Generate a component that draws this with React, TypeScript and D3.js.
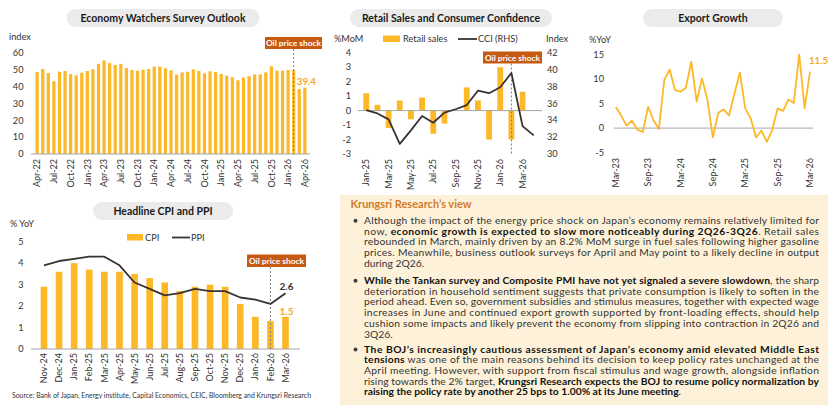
import React from 'react';
import * as d3 from 'd3';

const FONT = "Lato, 'Liberation Sans', sans-serif";
const GOLD = '#FDB827';
const GOLD_TXT = '#F2A91D';
const DARK = '#3A3233';
const AXIS = '#A6A6A6';
const SHOCK = '#C65A11';
const TXT = '#333333';
const TICK = 9.2;

// ---------- Economy Watchers Survey Outlook ----------
const ewsMonths = [
  'Apr-22','May-22','Jun-22','Jul-22','Aug-22','Sep-22','Oct-22','Nov-22','Dec-22',
  'Jan-23','Feb-23','Mar-23','Apr-23','May-23','Jun-23','Jul-23','Aug-23','Sep-23','Oct-23','Nov-23','Dec-23',
  'Jan-24','Feb-24','Mar-24','Apr-24','May-24','Jun-24','Jul-24','Aug-24','Sep-24','Oct-24','Nov-24','Dec-24',
  'Jan-25','Feb-25','Mar-25','Apr-25','May-25','Jun-25','Jul-25','Aug-25','Sep-25','Oct-25','Nov-25','Dec-25',
  'Jan-26','Feb-26','Mar-26','Apr-26'];
const ewsValues = [
  48.7,50.5,48.1,43.2,48.9,49.3,47.5,46.7,48.3,49.3,50.3,53.5,
  55.6,54.0,52.9,53.5,51.1,49.9,49.5,50.1,50.5,51.9,51.9,50.9,
  49.7,47.1,48.5,48.9,50.3,49.3,47.9,49.1,48.7,47.5,46.5,45.6,
  43.8,45.4,46.2,47.3,47.3,48.5,52.1,49.5,49.5,49.9,49.9,38.6,39.4];
const ewsTicks = [0,10,20,30,40,50,60];
const ewsXLabels = ['Apr-22','Jul-22','Oct-22','Jan-23','Apr-23','Jul-23','Oct-23','Jan-24','Apr-24','Jul-24','Oct-24','Jan-25','Apr-25','Jul-25','Oct-25','Jan-26','Apr-26'];

// ---------- Retail Sales and Consumer Confidence ----------
const retailMonths = ['Jan-25','Feb-25','Mar-25','Apr-25','May-25','Jun-25','Jul-25','Aug-25','Sep-25','Oct-25','Nov-25','Dec-25','Jan-26','Feb-26','Mar-26','Apr-26'];
const retailSales: (number | null)[] = [1.2,0.4,-1.2,0.7,-0.6,0.9,-1.6,-0.9,0.0,1.6,0.7,-2.0,3.0,-2.0,1.3,null];
const cciValues = [35.2,34.8,34.1,31.2,32.8,34.5,33.7,34.9,35.3,35.8,37.5,37.2,37.9,39.6,33.3,32.2];
const retailTicks = [-3,-2,-1,0,1,2,3,4];
const cciTicks = [30,32,34,36,38,40,42];
const retailXLabels = ['Jan-25','Mar-25','May-25','Jul-25','Sep-25','Nov-25','Jan-26','Mar-26'];

// ---------- Export Growth ----------
const exportMonths = [
  'Mar-23','Apr-23','May-23','Jun-23','Jul-23','Aug-23','Sep-23','Oct-23','Nov-23','Dec-23',
  'Jan-24','Feb-24','Mar-24','Apr-24','May-24','Jun-24','Jul-24','Aug-24','Sep-24','Oct-24','Nov-24','Dec-24',
  'Jan-25','Feb-25','Mar-25','Apr-25','May-25','Jun-25','Jul-25','Aug-25','Sep-25','Oct-25','Nov-25','Dec-25',
  'Jan-26','Feb-26','Mar-26'];
const exportValues = [
  4.3,2.6,0.5,1.5,-0.3,-0.8,4.3,1.6,-0.2,9.8,
  11.9,7.7,7.4,8.2,13.5,5.4,10.1,5.7,-1.9,3.1,3.8,2.6,
  7.0,11.3,4.0,2.0,-1.9,-0.5,-2.8,-0.4,4.0,3.5,5.8,5.1,
  15.0,4.0,11.5];
const exportTicks = [-5,0,5,10,15];
const exportXLabels = ['Mar-23','Sep-23','Mar-24','Sep-24','Mar-25','Sep-25','Mar-26'];

// ---------- Headline CPI and PPI ----------
const cpiMonths = ['Nov-24','Dec-24','Jan-25','Feb-25','Mar-25','Apr-25','May-25','Jun-25','Jul-25','Aug-25','Sep-25','Oct-25','Nov-25','Dec-25','Jan-26','Feb-26','Mar-26'];
const cpiValues = [2.9,3.6,4.0,3.7,3.6,3.6,3.5,3.3,3.1,2.7,2.9,3.0,2.9,2.1,1.5,1.3,1.5];
const ppiValues = [3.9,4.1,4.2,4.3,4.3,3.9,3.1,2.8,2.5,2.6,2.8,2.7,2.7,2.4,2.3,2.1,2.6];
const cpiTicks = [0,1,2,3,4,5];

// ---------- Commentary ----------
type Seg = [string, boolean];
type Line = { segs: Seg[]; justify: boolean };
const para1: Line[] = [
  { segs: [['Although the impact of the energy price shock on Japan\u2019s economy remains relatively limited for', false]], justify: true },
  { segs: [['now, ', false], ['economic growth is expected to slow more noticeably during 2Q26-3Q26', true], ['. Retail sales', false]], justify: true },
  { segs: [['rebounded in March, mainly driven by an 8.2% MoM surge in fuel sales following higher gasoline', false]], justify: true },
  { segs: [['prices. Meanwhile, business outlook surveys for April and May point to a likely decline in output', false]], justify: true },
  { segs: [['during 2Q26.', false]], justify: false },
];
const para2: Line[] = [
  { segs: [['While the Tankan survey and Composite PMI have not yet signaled a severe slowdown', true], [', the sharp', false]], justify: true },
  { segs: [['deterioration in household sentiment suggests that private consumption is likely to soften in the', false]], justify: true },
  { segs: [['period ahead. Even so, government subsidies and stimulus measures, together with expected wage', false]], justify: true },
  { segs: [['increases in June and continued export growth supported by front-loading effects, should help', false]], justify: true },
  { segs: [['cushion some impacts and likely prevent the economy from slipping into contraction in 2Q26 and', false]], justify: true },
  { segs: [['3Q26.', false]], justify: false },
];
const para3: Line[] = [
  { segs: [['The BOJ\u2019s increasingly cautious assessment of Japan\u2019s economy amid elevated Middle East', true]], justify: true },
  { segs: [['tensions', true], [' was one of the main reasons behind its decision to keep policy rates unchanged at the', false]], justify: true },
  { segs: [['April meeting. However, with support from fiscal stimulus and wage growth, alongside inflation', false]], justify: true },
  { segs: [['rising towards the 2% target, ', false], ['Krungsri Research expects the BOJ to resume policy normalization by', true]], justify: true },
  { segs: [['raising the policy rate by another 25 bps to 1.00% at its June meeting', true], ['.', false]], justify: false },
];

function Pill({ cx, cy, w, label }: { cx: number; cy: number; w: number; label: string }) {
  const h = 18;
  return (
    <g>
      <rect x={cx - w / 2} y={cy - h / 2} width={w} height={h} rx={h / 2} fill="#EBEBEB" />
      <text x={cx} y={cy} dy="0.36em" textAnchor="middle" fontWeight={700} fontSize={10.5} fill="#1A1A1A">{label}</text>
    </g>
  );
}

function ShockBox({ x, y, w, h }: { x: number; y: number; w: number; h: number }) {
  return (
    <g>
      <rect x={x} y={y} width={w} height={h} fill={SHOCK} />
      <text x={x + w / 2} y={y + h / 2} dy="0.36em" textAnchor="middle" fontWeight={700} fontSize={8.4} fill="#FFFFFF">Oil price shock</text>
    </g>
  );
}

function RotLabel({ x, y, label }: { x: number; y: number; label: string }) {
  return (
    <text transform={`translate(${x},${y}) rotate(-90)`} textAnchor="end" dy="0.35em" fontSize={9} fill={TXT}>{label}</text>
  );
}

function EwsChart() {
  const x = d3.scaleBand<string>().domain(ewsMonths).range([33.2, 308.8]).padding(0.42);
  const y = d3.scaleLinear().domain([0, 60]).range([154, 53]);
  const bw = x.bandwidth();
  const cx = (m: string) => (x(m) as number) + bw / 2;
  return (
    <g>
      <Pill cx={163} cy={18} w={193} label="Economy Watchers Survey Outlook" />
      <text x={9} y={37} dy="0.35em" fontSize={TICK} fill={TXT}>index</text>
      {ewsTicks.map(t => (
        <text key={t} x={23.5} y={y(t)} dy="0.35em" textAnchor="end" fontSize={TICK} fill={TXT}>{t}</text>
      ))}
      {ewsValues.map((v, i) => (
        <rect key={i} x={x(ewsMonths[i])} y={y(v)} width={bw} height={y(0) - y(v)} fill={GOLD} />
      ))}
      <line x1={31} x2={310} y1={y(0)} y2={y(0)} stroke={AXIS} strokeWidth={1} />
      <line x1={cx('Feb-26')} x2={cx('Feb-26')} y1={49} y2={y(0)} stroke="#7F7F7F" strokeWidth={1} strokeDasharray="2,2" />
      <ShockBox x={265} y={37} w={57} h={12} />
      <text x={cx('Apr-26') + 1.5} y={y(39.4) - 3} textAnchor="middle" fontWeight={700} fontSize={9.6} fill={GOLD_TXT}>39.4</text>
      {ewsXLabels.map(m => <RotLabel key={m} x={cx(m)} y={159} label={m} />)}
    </g>
  );
}

function RetailChart() {
  const x = d3.scaleBand<string>().domain(retailMonths).range([358, 542]).padding(0.48);
  const yL = d3.scaleLinear().domain([-3, 4]).range([154, 52.7]);
  const yR = d3.scaleLinear().domain([30, 42]).range([154, 52.7]);
  const bw = x.bandwidth();
  const cx = (m: string) => (x(m) as number) + bw / 2;
  const line = d3.line<number>().x((_, i) => cx(retailMonths[i])).y(d => yR(d));
  return (
    <g>
      <Pill cx={451} cy={18} w={202} label="Retail Sales and Consumer Confidence" />
      <text x={334} y={39} dy="0.35em" fontSize={TICK} fill={TXT}>%MoM</text>
      <rect x={383} y={35.5} width={17} height={6.5} fill={GOLD} />
      <text x={403} y={39} dy="0.35em" fontSize={TICK} fill={TXT}>Retail sales</text>
      <line x1={458} x2={477} y1={39} y2={39} stroke={DARK} strokeWidth={1.8} />
      <text x={478} y={39} dy="0.35em" fontSize={TICK} fill={TXT}>CCI (RHS)</text>
      <text x={546} y={39} dy="0.35em" fontSize={TICK} fill={TXT}>Index</text>
      {retailTicks.map(t => (
        <text key={t} x={351} y={yL(t)} dy="0.35em" textAnchor="end" fontSize={TICK} fill={TXT}>{t}</text>
      ))}
      {cciTicks.map(t => (
        <text key={t} x={547} y={yR(t)} dy="0.35em" fontSize={TICK} fill={TXT}>{t}</text>
      ))}
      {retailSales.map((v, i) => v === null ? null : (
        <rect key={i} x={x(retailMonths[i])} y={Math.min(yL(v), yL(0))} width={bw} height={Math.abs(yL(v) - yL(0))} fill={GOLD} />
      ))}
      <line x1={358} x2={542} y1={yL(0)} y2={yL(0)} stroke={AXIS} strokeWidth={1} />
      <line x1={cx('Feb-26')} x2={cx('Feb-26')} y1={63.5} y2={154} stroke="#7F7F7F" strokeWidth={1} strokeDasharray="2,2" />
      <path d={line(cciValues) || ''} fill="none" stroke={DARK} strokeWidth={1.8} strokeLinejoin="round" />
      <ShockBox x={483} y={51.5} w={59} h={12} />
      {retailXLabels.map(m => <RotLabel key={m} x={cx(m)} y={159} label={m} />)}
    </g>
  );
}

function ExportChart() {
  const x = d3.scalePoint<string>().domain(exportMonths).range([615.7, 810]);
  const y = d3.scaleLinear().domain([-5, 15]).range([152.7, 54.3]);
  const line = d3.line<number>().x((_, i) => x(exportMonths[i]) as number).y(d => y(d));
  const last = exportValues[exportValues.length - 1];
  return (
    <g>
      <Pill cx={713} cy={18} w={140} label="Export Growth" />
      <text x={589} y={40} dy="0.35em" fontSize={TICK} fill={TXT}>%YoY</text>
      {exportTicks.map(t => (
        <text key={t} x={604} y={y(t)} dy="0.35em" textAnchor="end" fontSize={TICK} fill={TXT}>{t}</text>
      ))}
      <line x1={614} x2={813} y1={y(0)} y2={y(0)} stroke={AXIS} strokeWidth={1} />
      <path d={line(exportValues) || ''} fill="none" stroke={GOLD} strokeWidth={1.8} strokeLinejoin="round" />
      <text x={(x('Mar-26') as number) + 8.5} y={y(last) - 7.5} textAnchor="middle" fontWeight={700} fontSize={9.6} fill={GOLD_TXT}>{last.toFixed(1)}</text>
      {exportXLabels.map(m => <RotLabel key={m} x={x(m) as number} y={158} label={m} />)}
    </g>
  );
}

function CpiChart() {
  const x = d3.scaleBand<string>().domain(cpiMonths).range([32.2, 297.3]).padding(0.56);
  const y = d3.scaleLinear().domain([0, 5]).range([349, 241.7]);
  const bw = x.bandwidth();
  const cx = (m: string) => (x(m) as number) + bw / 2;
  const line = d3.line<number>().x((_, i) => cx(cpiMonths[i])).y(d => y(d));
  const lastCpi = cpiValues[cpiValues.length - 1];
  const lastPpi = ppiValues[ppiValues.length - 1];
  return (
    <g>
      <Pill cx={163} cy={211} w={140} label="Headline CPI and PPI" />
      <text x={10} y={224} dy="0.35em" fontSize={TICK} fill={TXT}>% YoY</text>
      <rect x={127} y={234} width={16} height={6.5} fill={GOLD} />
      <text x={145} y={237.5} dy="0.35em" fontSize={TICK} fill={TXT}>CPI</text>
      <line x1={172} x2={190} y1={237.5} y2={237.5} stroke={DARK} strokeWidth={1.8} />
      <text x={191} y={237.5} dy="0.35em" fontSize={TICK} fill={TXT}>PPI</text>
      {cpiTicks.map(t => (
        <text key={t} x={23.5} y={y(t)} dy="0.35em" textAnchor="end" fontSize={TICK} fill={TXT}>{t}</text>
      ))}
      {cpiValues.map((v, i) => (
        <rect key={i} x={x(cpiMonths[i])} y={y(v)} width={bw} height={y(0) - y(v)} fill={GOLD} />
      ))}
      <line x1={31} x2={300} y1={y(0)} y2={y(0)} stroke={AXIS} strokeWidth={1} />
      <line x1={cx('Feb-26')} x2={cx('Feb-26')} y1={267} y2={y(0)} stroke="#7F7F7F" strokeWidth={1} strokeDasharray="2,2" />
      <path d={line(ppiValues) || ''} fill="none" stroke={DARK} strokeWidth={1.8} strokeLinejoin="round" />
      <ShockBox x={247} y={254.5} w={59} h={12.5} />
      <text x={cx('Mar-26') + 1} y={y(lastPpi) - 3.5} textAnchor="middle" fontWeight={700} fontSize={10} fill={DARK}>{lastPpi.toFixed(1)}</text>
      <text x={cx('Mar-26') + 1} y={y(lastCpi) - 2} textAnchor="middle" fontWeight={700} fontSize={10} fill={GOLD_TXT}>{lastCpi.toFixed(1)}</text>
      {cpiMonths.map(m => <RotLabel key={m} x={cx(m)} y={353} label={m} />)}
      <text x={12} y={397.5} fontSize={6.8} fill={TXT} textLength={299} lengthAdjust="spacingAndGlyphs">Source: Bank of Japan, Energy institute, Capital Economics, CEIC, Bloomberg and Krungsri Research</text>
    </g>
  );
}

function Paragraph({ lines, y0 }: { lines: Line[]; y0: number }) {
  const step = 10.7;
  return (
    <g>
      <circle cx={355.5} cy={y0 - 3.2} r={2} fill="#404040" />
      {lines.map((ln, i) => (
        <text key={i} x={364} y={y0 + i * step} fontSize={10.3} fill={TXT}
          textLength={ln.justify ? 455 : undefined} lengthAdjust={ln.justify ? 'spacing' : undefined}>
          {ln.segs.map(([t, b], j) => (
            <tspan key={j} fontWeight={b ? 700 : 400} fill={b ? '#111111' : TXT}>{t}</tspan>
          ))}
        </text>
      ))}
    </g>
  );
}

function Commentary() {
  return (
    <g>
      <rect x={340} y={195} width={488} height={210} fill="#FDF2D9" />
      <text x={350.5} y={208} fontWeight={700} fontSize={11} fill="#D27A27">Krungsri Research{'\u2019'}s view</text>
      <Paragraph lines={para1} y0={224} />
      <Paragraph lines={para2} y0={284} />
      <Paragraph lines={para3} y0={352.6} />
    </g>
  );
}

export default function App() {
  return (
    <svg width={840} height={416} viewBox="0 0 840 416"
      style={{ position: 'absolute', left: 0, top: 0, display: 'block', background: '#FFFFFF' }}
      fontFamily={FONT}>
      <rect x={0} y={0} width={840} height={416} fill="#FFFFFF" />
      <EwsChart />
      <RetailChart />
      <ExportChart />
      <CpiChart />
      <Commentary />
    </svg>
  );
}
